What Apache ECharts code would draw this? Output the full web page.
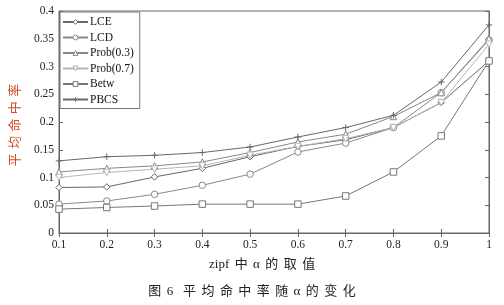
<!DOCTYPE html>
<html><head><meta charset="utf-8">
<script src="https://cdn.jsdelivr.net/npm/echarts@6/dist/echarts.min.js"></script>
<style>html,body{margin:0;padding:0;background:#fff}#c{width:504px;height:305px}</style>
</head><body><div id="c"></div>
<script>
var alphaValues = [0.1,0.2,0.3,0.4,0.5,0.6,0.7,0.8,0.9,1.0];
var seriesNames = ['LCE','LCD','Prob(0.3)','Prob(0.7)','Betw','PBCS'];
var LCE   = [0.082,0.083,0.101,0.1165,0.1375,0.156,0.168,0.190,0.235,0.310];
var LCD   = [0.052,0.0577,0.0697,0.086,0.106,0.146,0.162,0.190,0.253,0.348];
var Prob03= [0.110,0.1165,0.121,0.128,0.145,0.164,0.178,0.210,0.253,0.350];
var Prob07= [0.100,0.109,0.115,0.121,0.140,0.156,0.170,0.190,0.235,0.340];
var Betw  = [0.043,0.046,0.0486,0.052,0.052,0.052,0.0667,0.110,0.175,0.310];
var PBCS  = [0.130,0.1375,0.140,0.145,0.155,0.173,0.190,0.212,0.272,0.375];

var serif = '"Liberation Serif","Times New Roman",serif';
var cjk = '"Liberation Serif","Noto Sans CJK SC",serif';
var plus = 'path://M0,5L10,5M5,0L5,10';
var sp = '\u2004';
var sp2 = '\u2004\u200A';
function pairs(arr){ return alphaValues.map(function(a,i){return [a,arr[i]];}); }
function mk(name, data, color, symbol, rotate){
  return {
    name: name, type: 'line', data: pairs(data),
    symbol: symbol, symbolSize: 6.5, symbolRotate: rotate || 0,
    lineStyle: {color: color, width: 1},
    itemStyle: {color: '#fff', borderColor: color, borderWidth: 1},
    emphasis: {disabled: true}, animation: false
  };
}
var chart = echarts.init(document.getElementById('c'));
var axisCommon = {
  axisLine: {lineStyle: {color: '#666', width: 1}},
  axisTick: {inside: true, length: 4, lineStyle: {color: '#666'}},
  splitLine: {show: false}
};
chart.setOption({
  animation: false,
  grid: {left: 58, right: 15, top: 11, bottom: 72, show: true, borderColor: '#666', borderWidth: 1},
  legend: {
    left: 60, top: 12, orient: 'vertical', itemWidth: 25, itemHeight: 6, itemGap: 3.5,
    padding: [4, 6, 3, 2],
    borderColor: '#777', borderWidth: 1, backgroundColor: '#fff', borderRadius: 0,
    itemStyle: {color: '#fff', borderColor: 'inherit', borderWidth: 1},
    textStyle: {fontFamily: serif, fontSize: 11.5, lineHeight: 12, color: '#111', padding: [0,0,0,-3]},
    data: seriesNames
  },
  xAxis: [
    Object.assign({type: 'value', min: 0.1, max: 1, interval: 0.1,
      axisLabel: {fontFamily: serif, fontSize: 11.5, color: '#222', margin: 6,
        formatter: function(v){ return String(+v.toFixed(2)); }}}, axisCommon),
    Object.assign({type: 'value', position: 'top', min: 0.1, max: 1, interval: 0.1,
      axisLabel: {show: false}}, axisCommon)
  ],
  yAxis: [
    Object.assign({type: 'value', min: 0, max: 0.4, interval: 0.05,
      name: ['平','均','命','中','率'].join(sp), nameLocation: 'middle', nameGap: 38, nameRotate: 90,
      nameTextStyle: {fontFamily: '"Noto Sans CJK SC"', fontSize: 13, color: '#d24a1e', padding: [0,0,0,-6]},
      axisLabel: {fontFamily: serif, fontSize: 11.5, color: '#222', margin: 5,
        formatter: function(v){ return String(+v.toFixed(2)); }}}, axisCommon),
    Object.assign({type: 'value', position: 'right', min: 0, max: 0.4, interval: 0.05,
      axisLabel: {show: false}}, axisCommon)
  ],
  title: [{
    text: ['zipf','中','α','的','取','值'].join(sp2), left: 204, top: 253,
    textStyle: {fontFamily: cjk, fontSize: 13, fontWeight: 'normal', color: '#222'}
  }, {
    text: ['图','6',sp+'平','均','命','中','率','随','α','的','变','化'].join(sp2), left: 'center', top: 280,
    textStyle: {fontFamily: cjk, fontSize: 13, fontWeight: 'normal', color: '#222'}
  }],
  series: [
    mk('LCE', LCE, '#666', 'diamond'),
    mk('LCD', LCD, '#888', 'circle'),
    mk('Prob(0.3)', Prob03, '#888', 'triangle'),
    mk('Prob(0.7)', Prob07, '#b5b5b5', 'triangle', 180),
    mk('Betw', Betw, '#777', 'rect'),
    mk('PBCS', PBCS, '#666', plus)
  ]
});
</script></body></html>
